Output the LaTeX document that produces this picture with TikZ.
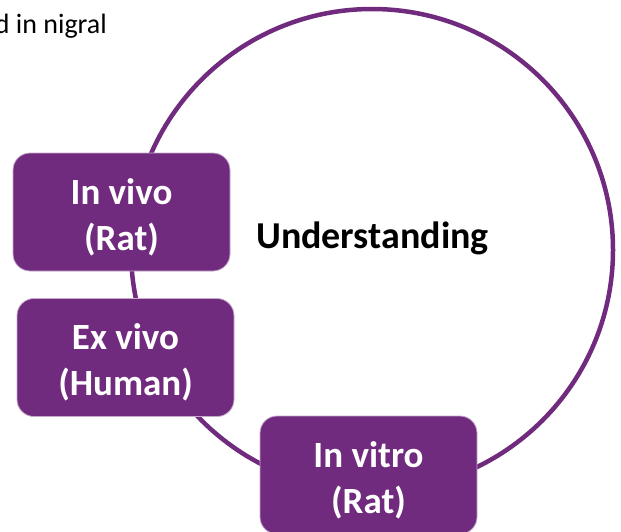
\documentclass[tikz,border=0pt]{standalone}
\usepackage{fontspec}
\setmainfont{Carlito}
\definecolor{cpurple}{HTML}{702B7E}
\newcommand{\bxtwo}[2]{\raisebox{-6pt}[\height][\depth]{\begin{tabular}{@{}c@{}}#1\\#2\end{tabular}}}
\begin{document}
\begin{tikzpicture}[x=1pt,y=-1pt,
  box/.style={rectangle, rounded corners=17pt, fill=cpurple, draw=cpurple!40, line width=0.8pt,
    minimum width=217pt, minimum height=118pt, text=white,
    font=\fontsize{37}{46}\selectfont\bfseries, inner sep=0pt},
  ring/.style={draw=cpurple, line width=4.5pt}]
\useasboundingbox (0,0) rectangle (621,531);
\coordinate (ctr) at (372,250);
\draw[ring] (ctr) circle[radius=241pt];
\node[anchor=base east, font=\fontsize{28}{32}\selectfont, inner sep=0pt] (cap) at (107,33) {d in nigral};
\node[font=\fontsize{38}{44}\selectfont\bfseries, inner sep=0pt] (und) at (372.5,238) {Understanding};
\node[box] (vivo) at (121.5,212) {\bxtwo{In vivo}{(Rat)}};
\node[box] (exvivo) at (125.5,357.5) {\bxtwo{Ex vivo}{(Human)}};
\node[box] (vitro) at (368.5,475) {\bxtwo{In vitro}{(Rat)}};
\end{tikzpicture}
\end{document}
